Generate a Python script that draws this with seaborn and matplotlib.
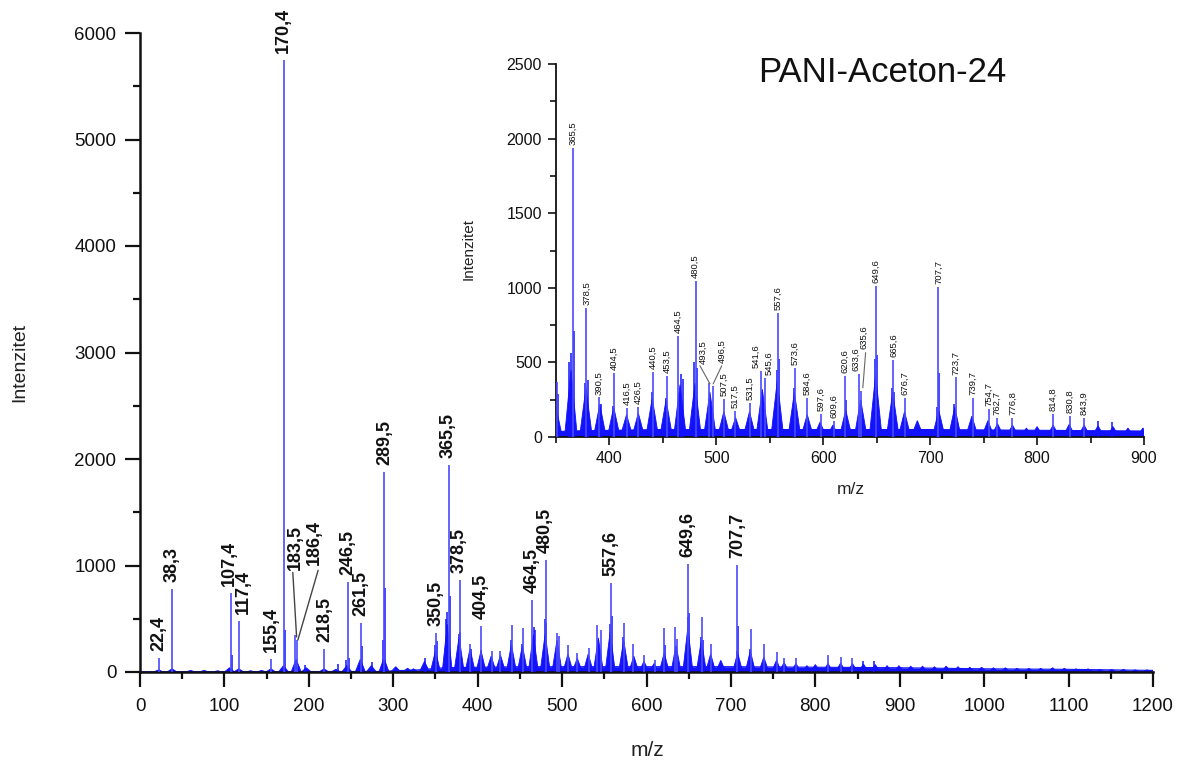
import numpy as np
import pandas as pd
import matplotlib
matplotlib.use("Agg")
import matplotlib.pyplot as plt
import seaborn as sns
from matplotlib.ticker import MultipleLocator

# ---------------- data ----------------
# main sticks (labelled peaks)
peak_mz = [22.4, 38.3, 107.4, 117.4, 155.4, 170.4, 183.5, 186.4, 218.5, 246.5,
           261.5, 289.5, 350.5, 365.5, 378.5, 390.5, 404.5, 416.5, 426.5, 440.5,
           453.5, 464.5, 480.5, 493.5, 496.5, 507.5, 517.5, 531.5, 541.6, 545.6,
           557.6, 573.6, 584.6, 597.6, 609.6, 620.6, 633.6, 635.6, 649.6, 665.6,
           676.7, 707.7, 723.7, 739.7, 754.7, 762.7, 776.8, 814.8, 830.8, 843.9]
peak_int = [130, 780, 742, 479, 122, 5750, 350, 300, 216, 845,
            460, 1880, 366, 1940, 865, 265, 430, 195, 200, 437,
            410, 678, 1048, 365, 340, 255, 175, 228, 443, 397,
            832, 464, 262, 155, 108, 410, 423, 310, 1015, 517,
            262, 1006, 400, 262, 188, 128, 128, 155, 141, 128]

# secondary (unlabelled) sticks
sub_mz = [108.4, 171.4, 195.5, 235.0, 244.0, 247.5, 262.5, 275.0, 288.4, 290.5,
          337.5, 349.2, 352.0, 362.5, 363.8, 366.8, 377.5, 379.5, 392.5, 403.5,
          439.5, 452.5, 466.5, 468.5, 479.5, 481.5, 542.6, 556.6, 558.6, 572.6,
          621.6, 648.6, 650.6, 664.6, 666.6, 706.7, 708.7, 722.7, 857.0, 870.0]
sub_int = [160, 390, 65, 75, 110, 130, 244, 90, 300, 790,
           130, 250, 290, 500, 565, 713, 360, 380, 220, 210,
           300, 260, 420, 390, 500, 460, 300, 450, 525, 330,
           250, 520, 550, 330, 300, 200, 430, 220, 107, 100]

# isotope-cluster envelopes
cluster_mz = [22, 38, 60, 76, 92, 106, 117, 131, 144, 155,
              170, 185, 197, 218, 232, 245, 261, 274, 289, 303,
              317, 324, 337, 350, 364, 378, 391, 404, 416, 427,
              440, 453, 466, 480, 494, 507, 518, 531, 543, 557,
              573, 585, 597, 609, 621, 635, 649, 665, 676, 688,
              708, 723, 739, 754, 763, 777, 790, 800, 815, 830,
              844, 857, 871, 885, 899, 913, 927, 941, 955, 969,
              983, 997, 1011, 1025, 1039, 1053, 1067, 1081, 1095, 1109,
              1123, 1137, 1151, 1165, 1179, 1193]
cluster_int = [20, 30, 15, 15, 12, 40, 30, 12, 15, 30,
               60, 120, 40, 30, 25, 60, 120, 60, 130, 50,
               35, 30, 100, 200, 450, 330, 220, 200, 150, 160,
               260, 250, 350, 360, 300, 170, 130, 170, 320, 380,
               300, 150, 100, 80, 180, 250, 420, 300, 170, 110,
               180, 200, 140, 110, 90, 80, 60, 70, 80, 85,
               80, 75, 70, 60, 60, 55, 55, 50, 55, 50,
               45, 45, 40, 40, 35, 35, 35, 40, 35, 30,
               30, 25, 25, 25, 20, 20]

# continuous baseline
baseline_mz = [0, 280, 330, 360, 450, 600, 700, 800, 900, 1000, 1100, 1200]
baseline_int = [3, 5, 20, 40, 50, 50, 50, 45, 40, 30, 25, 15]

main_labels = [22.4, 38.3, 107.4, 117.4, 155.4, 170.4, 183.5, 186.4, 218.5, 246.5,
               261.5, 289.5, 350.5, 365.5, 378.5, 404.5, 464.5, 480.5, 557.6,
               649.6, 707.7]
inset_labels = [365.5, 378.5, 390.5, 404.5, 416.5, 426.5, 440.5, 453.5, 464.5, 480.5,
                493.5, 496.5, 507.5, 517.5, 531.5, 541.6, 545.6, 557.6, 573.6, 584.6,
                597.6, 609.6, 620.6, 633.6, 635.6, 649.6, 665.6, 676.7, 707.7, 723.7,
                739.7, 754.7, 762.7, 776.8, 814.8, 830.8, 843.9]

title_text = "PANI-Aceton-24"
x_label = "m/z"
y_label = "Intenzitet"

# label placements (layout): x, y (None = just above peak), leader start, leader end
main_label_pos = {183.5: (183.6, 958, (181, 935), (185.5, 330)),
                  186.4: (206.0, 1005, (211, 955), (187.0, 300)),
                  107.4: (105.5, None, None, None),
                  117.4: (123.0, None, None, None)}
inset_label_pos = {493.5: (487.5, 490, (484.7, 477), (494.0, 356)),
                   496.5: (505.3, 497, (505.0, 477), (497.0, 356)),
                   635.6: (638.0, 591, (639.6, 565), (637.0, 330)),
                   633.6: (630.5, None, None, None),
                   541.6: (537.0, None, None, None),
                   545.6: (549.5, None, None, None)}

# ---------------- style ----------------
sns.set_theme(style="ticks")
plt.rcParams['font.family'] = ['Liberation Sans', 'DejaVu Sans']
plt.rcParams['axes.edgecolor'] = '#111111'
plt.rcParams['xtick.color'] = '#111111'
plt.rcParams['ytick.color'] = '#111111'

BLUE = '#1212ff'
STICK = '#4a4aff'
HW = 6.0

W, H = 1178, 761
fig = plt.figure(figsize=(W / 100, H / 100), dpi=100)
ax = fig.add_axes([140 / W, 1 - 672 / H, 1013 / W, 639 / H])
axin = fig.add_axes([556 / W, 1 - 437 / H, 588 / W, 373 / H])
axin.set_facecolor('white')

peak_lookup = dict(zip(peak_mz, peak_int))


def draw_spectrum(a, xmin, xmax):
    base = pd.DataFrame({'mz': baseline_mz, 'I': baseline_int})
    a.fill_between(base['mz'], 0, base['I'], color=BLUE, lw=0, zorder=1)
    sns.lineplot(data=base, x='mz', y='I', ax=a, color=BLUE, lw=0.8,
                 estimator=None, sort=False, zorder=1)
    for m, h in zip(cluster_mz, cluster_int):
        if xmin - 10 <= m <= xmax + 10:
            a.fill([m - HW, m, m + HW], [0, h, 0], color=BLUE, lw=0.6,
                   edgecolor=BLUE, zorder=2)
    a.vlines(sub_mz, 0, sub_int, color=BLUE, lw=1.1, zorder=3)
    a.vlines(peak_mz, 0, peak_int, color=STICK, lw=1.2, zorder=4)
    a.set_xlim(xmin, xmax)


def put_labels(a, labels, positions, size, weight, offset, line_color, line_w):
    for m in labels:
        txt = f"{m:.1f}".replace('.', ',')
        pos = positions.get(m)
        if pos is not None and pos[1] is not None:
            lx, ly, p0, p1 = pos
            a.text(lx, ly, txt, rotation=90, ha='center', va='bottom',
                   fontsize=size, fontweight=weight, color='#111111', zorder=6)
            a.plot([p0[0], p1[0]], [p0[1], p1[1]], color=line_color, lw=line_w, zorder=6)
        else:
            lx = pos[0] if pos is not None else m
            a.annotate(txt, (lx, peak_lookup[m]), xytext=(0, offset),
                       textcoords='offset points', rotation=90, ha='center',
                       va='bottom', fontsize=size, fontweight=weight,
                       color='#111111', zorder=6)


# main axes
draw_spectrum(ax, 0, 1200)
ax.set_ylim(0, 6000)
ax.xaxis.set_major_locator(MultipleLocator(100))
ax.xaxis.set_minor_locator(MultipleLocator(50))
ax.yaxis.set_major_locator(MultipleLocator(1000))
ax.yaxis.set_minor_locator(MultipleLocator(500))
ax.tick_params(which='major', direction='out', length=11, width=1.6,
               labelsize=13.5, pad=6)
ax.tick_params(which='minor', direction='out', length=5, width=1.6)
ax.tick_params(axis='x', which='major', pad=8)
for s in ['top', 'right']:
    ax.spines[s].set_visible(False)
for s in ['left', 'bottom']:
    ax.spines[s].set_linewidth(1.8)
ax.set_xlabel('')
ax.set_ylabel('')
put_labels(ax, main_labels, main_label_pos, 13, 'bold', 5, '#444444', 1.0)

# inset axes
draw_spectrum(axin, 350, 900)
axin.set_ylim(0, 2500)
axin.xaxis.set_major_locator(MultipleLocator(100))
axin.xaxis.set_minor_locator(MultipleLocator(50))
axin.yaxis.set_major_locator(MultipleLocator(500))
axin.yaxis.set_minor_locator(MultipleLocator(250))
axin.tick_params(which='major', direction='out', length=6, width=1.2,
                 labelsize=11.5, pad=4)
axin.tick_params(which='minor', direction='out', length=4, width=1.2)
for s in ['top', 'right']:
    axin.spines[s].set_visible(False)
for s in ['left', 'bottom']:
    axin.spines[s].set_linewidth(1.3)
axin.set_xlabel('')
axin.set_ylabel('')
put_labels(axin, inset_labels, inset_label_pos, 6.8, 'normal', 2, '#666666', 0.8)

# axis titles and figure title
fig.text(647 / W, 1 - 750 / H, x_label, ha='center', va='center', fontsize=15, color='#222222')
fig.text(20 / W, 1 - 362 / H, y_label, ha='center', va='center', rotation=90,
         fontsize=14, color='#222222')
fig.text(851 / W, 1 - 489 / H, x_label, ha='center', va='center', fontsize=12.5, color='#222222')
fig.text(469 / W, 1 - 249 / H, y_label, ha='center', va='center', rotation=90,
         fontsize=11, color='#222222')
fig.text(882 / W, 1 - 73 / H, title_text, ha='center', va='center', fontsize=25,
         color='#111111')

fig.savefig('out.png', dpi=100, facecolor='white')
